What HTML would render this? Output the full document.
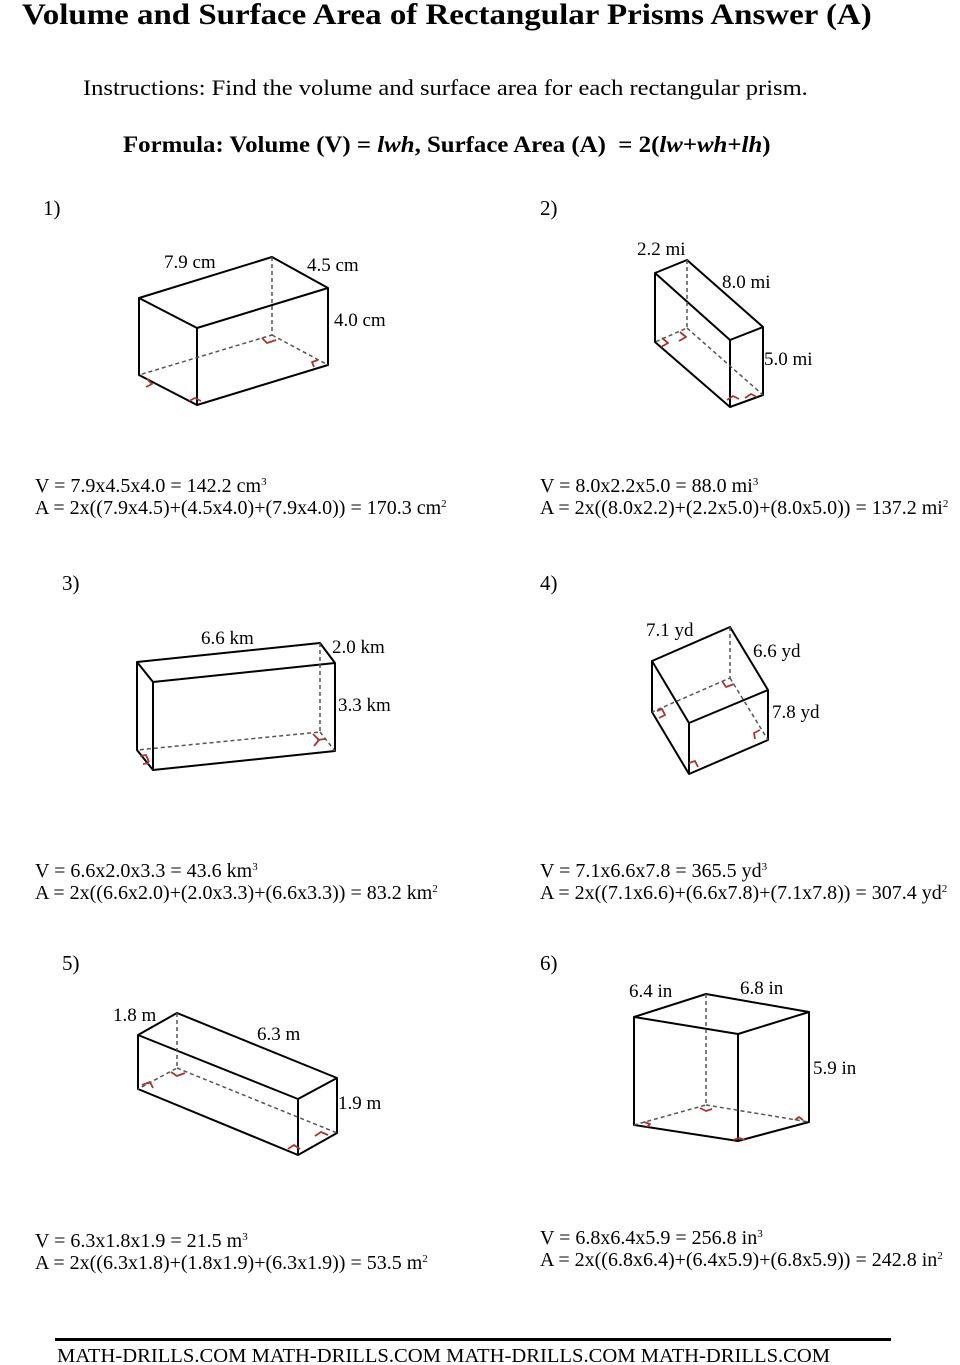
<!DOCTYPE html>
<html><head><meta charset="utf-8"><style>
body{margin:0;background:#fff;}
.p{position:relative;width:960px;height:1365px;overflow:hidden;font-family:"Liberation Serif",serif;color:#000;}
.t{position:absolute;white-space:nowrap;font-size:19px;line-height:1;transform-origin:0 0;}
.a{font-size:20px;}
sup{font-size:11px;vertical-align:7px;line-height:0;}
svg{position:absolute;left:0;top:0;}
</style></head><body><div class="p">
<div class="t" style="left:22px;top:0px;font-size:30px;font-weight:bold;transform:scaleX(1.098);">Volume and Surface Area of Rectangular Prisms Answer (A)</div>
<div class="t" style="left:83px;top:77px;font-size:22px;transform:scaleX(1.114);">Instructions: Find the volume and surface area for each rectangular prism.</div>
<div class="t" style="left:123px;top:133px;font-size:23px;font-weight:bold;transform:scaleX(1.08);">Formula: Volume (V) = <i>lwh</i>, Surface Area (A) &nbsp;= 2(<i>lw</i>+<i>wh</i>+<i>lh</i>)</div>

<div class="t" style="left:43px;top:198px;font-size:21px;">1)</div>
<div class="t" style="left:540px;top:198px;font-size:21px;">2)</div>
<div class="t" style="left:62px;top:573px;font-size:21px;">3)</div>
<div class="t" style="left:540px;top:573px;font-size:21px;">4)</div>
<div class="t" style="left:62px;top:953px;font-size:21px;">5)</div>
<div class="t" style="left:540px;top:953px;font-size:21px;">6)</div>

<div class="t" style="left:164px;top:253px;">7.9 cm</div>
<div class="t" style="left:307px;top:256px;">4.5 cm</div>
<div class="t" style="left:334px;top:311px;">4.0 cm</div>
<div class="t" style="left:637px;top:240px;">2.2 mi</div>
<div class="t" style="left:722px;top:273px;">8.0 mi</div>
<div class="t" style="left:764px;top:350px;">5.0 mi</div>
<div class="t" style="left:201px;top:629px;">6.6 km</div>
<div class="t" style="left:332px;top:638px;">2.0 km</div>
<div class="t" style="left:338px;top:696px;">3.3 km</div>
<div class="t" style="left:646px;top:621px;">7.1 yd</div>
<div class="t" style="left:753px;top:642px;">6.6 yd</div>
<div class="t" style="left:772px;top:703px;">7.8 yd</div>
<div class="t" style="left:113px;top:1006px;">1.8 m</div>
<div class="t" style="left:257px;top:1025px;">6.3 m</div>
<div class="t" style="left:338px;top:1094px;">1.9 m</div>
<div class="t" style="left:629px;top:982px;">6.4 in</div>
<div class="t" style="left:740px;top:979px;">6.8 in</div>
<div class="t" style="left:813px;top:1059px;">5.9 in</div>

<div class="t a" style="left:35px;top:476px;">V = 7.9x4.5x4.0 = 142.2 cm<sup>3</sup></div>
<div class="t a" style="left:35px;top:498px;">A = 2x((7.9x4.5)+(4.5x4.0)+(7.9x4.0)) = 170.3 cm<sup>2</sup></div>
<div class="t a" style="left:540px;top:476px;">V = 8.0x2.2x5.0 = 88.0 mi<sup>3</sup></div>
<div class="t a" style="left:540px;top:498px;">A = 2x((8.0x2.2)+(2.2x5.0)+(8.0x5.0)) = 137.2 mi<sup>2</sup></div>
<div class="t a" style="left:35px;top:861px;">V = 6.6x2.0x3.3 = 43.6 km<sup>3</sup></div>
<div class="t a" style="left:35px;top:883px;">A = 2x((6.6x2.0)+(2.0x3.3)+(6.6x3.3)) = 83.2 km<sup>2</sup></div>
<div class="t a" style="left:540px;top:861px;">V = 7.1x6.6x7.8 = 365.5 yd<sup>3</sup></div>
<div class="t a" style="left:540px;top:883px;">A = 2x((7.1x6.6)+(6.6x7.8)+(7.1x7.8)) = 307.4 yd<sup>2</sup></div>
<div class="t a" style="left:35px;top:1231px;">V = 6.3x1.8x1.9 = 21.5 m<sup>3</sup></div>
<div class="t a" style="left:35px;top:1253px;">A = 2x((6.3x1.8)+(1.8x1.9)+(6.3x1.9)) = 53.5 m<sup>2</sup></div>
<div class="t a" style="left:540px;top:1228px;">V = 6.8x6.4x5.9 = 256.8 in<sup>3</sup></div>
<div class="t a" style="left:540px;top:1250px;">A = 2x((6.8x6.4)+(6.4x5.9)+(6.8x5.9)) = 242.8 in<sup>2</sup></div>

<div style="position:absolute;left:55px;top:1338px;width:836px;height:3px;background:#000;"></div>
<div class="t" style="left:57px;top:1346px;font-size:20px;transform:scaleX(1.03);">MATH-DRILLS.COM MATH-DRILLS.COM MATH-DRILLS.COM MATH-DRILLS.COM</div>

<svg width="960" height="1365" fill="none" stroke-linejoin="round">
<g stroke="#000" stroke-width="2">
<path d="M139 298L272 257L328 288L197 328Z M139 298V375L197 405L328 365V288 M197 328V405"/>
<path d="M655 273L687 260L763 327L730 340Z M655 273V342L730 407L763 395V327 M730 340V407"/>
<path d="M137 662L320 643L335 663L153 682Z M137 662V750L153 770L335 751V663 M153 682V770"/>
<path d="M652 661L730 627L768 690L689 723Z M652 661V712L689 774L768 740V690 M689 723V774"/>
<path d="M138 1035L177 1013L337 1078L298 1099Z M138 1035V1089L298 1155L337 1133V1078 M298 1099V1155"/>
<path d="M634 1017L706 994L809 1012L738 1034Z M634 1017V1125L738 1141L809 1122V1012 M738 1034V1141"/>
</g>
<g stroke="#555" stroke-width="1.5" stroke-dasharray="4 3">
<path d="M272 257V335L139 375 M272 335L328 365"/>
<path d="M687 260V328L655 342 M687 328L763 395"/>
<path d="M320 643V732L137 750 M320 732L335 751"/>
<path d="M730 627V678L652 712 M730 678L768 740"/>
<path d="M177 1013V1068L138 1089 M177 1068L337 1133"/>
<path d="M706 994V1105L634 1125 M706 1105L809 1122"/>
</g>
<g stroke="#a33" stroke-width="1.8">
<path d="M147 379l5 5-6 3 M189 401l6-3 6 3 M262 338l5 5 9-3 M318 360l-6 2 2 5"/>
<path d="M662 338l6 5-7 4 M680 332l6 5-7 4 M727 400l6-4 6 3 M745 398l6-4 6 3"/>
<path d="M140 756l6-1 3 7 M143 764l6-1 M313 734l6 6-5 6 M317 740l8-1"/>
<path d="M657 711l5 -2 3 6-6 3 M722 681l4 6 8-3 M689 763l6-2 3 6 M760 730l-6 3 1 6"/>
<path d="M142 1085l8-3 3 6 M171 1072l6 4 8-3 M288 1149l6-4 6 4 M315 1136l6-4 7 3"/>
<path d="M644 1122l6 2-3 3 M700 1108l6 3 6-2 M733 1140l6-2 6 2 M795 1120l4-3 4 3"/>
</g>
</svg>
</div></body></html>
